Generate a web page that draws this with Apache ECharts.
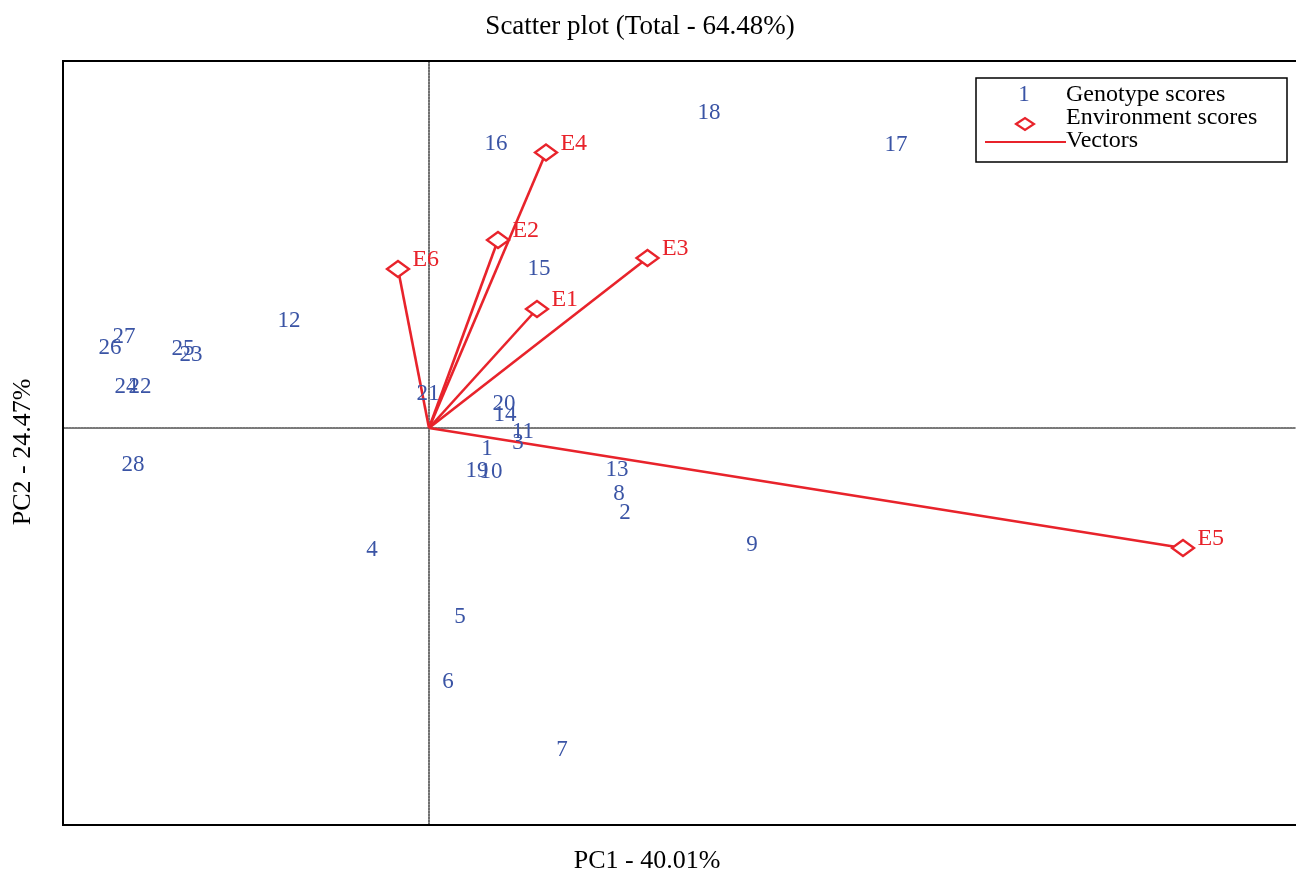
<!DOCTYPE html>
<html>
<head>
<meta charset="utf-8">
<title>Scatter plot</title>
<script src="https://cdn.jsdelivr.net/npm/echarts@6/dist/echarts.min.js"></script>
<style>
  html, body { margin: 0; padding: 0; background: #fff; }
  #chart { width: 1296px; height: 871px; }
</style>
</head>
<body>
<div id="chart"></div>
<script>
// Genotype scores (PC1, PC2)
const genotypeNames = ['1','2','3','4','5','6','7','8','9','10','11','12','13','14',
  '15','16','17','18','19','20','21','22','23','24','25','26','27','28'];
const genotypePC1 = [0.58, 1.96, 0.89, -0.57, 0.31, 0.19, 1.33, 1.90, 3.23, 0.62, 0.94, -1.40, 1.88, 0.76,
  1.10, 0.67, 4.67, 2.80, 0.48, 0.75, -0.01, -2.89, -2.38, -3.03, -2.46, -3.19, -3.05, -2.96];
const genotypePC2 = [-0.19, -0.83, -0.13, -1.20, -1.87, -2.52, -3.20, -0.64, -1.15, -0.42, -0.02, 1.09, -0.40, 0.15,
  1.61, 2.86, 2.85, 3.17, -0.41, 0.26, 0.36, 0.43, 0.75, 0.43, 0.81, 0.82, 0.93, -0.35];

// Environment scores (PC1, PC2)
const envNames = ['E1','E2','E3','E4','E5','E6'];
const envPC1 = [1.08, 0.69, 2.185, 1.17, 7.54, -0.31];
const envPC2 = [1.19, 1.88, 1.70, 2.755, -1.20, 1.59];

const BLUE = '#3a54a5';
const RED = '#e8232b';
const SERIF = '"Liberation Serif", "Times New Roman", serif';

const genotypeData = genotypeNames.map((n, i) => ({ name: n, value: [genotypePC1[i], genotypePC2[i]] }));
const envData = envNames.map((n, i) => ({ name: n, value: [envPC1[i], envPC2[i]] }));
const vectorData = envNames.map((n, i) => ({ coords: [[0, 0], [envPC1[i], envPC2[i]]] }));

const chart = echarts.init(document.getElementById('chart'), null, { renderer: 'canvas' });

const hiddenAxisBits = {
  axisTick: { show: false },
  axisLabel: { show: false },
  splitLine: { show: false }
};
const crossLine = { show: true, onZero: true, lineStyle: { color: '#4d4d4d', width: 1.6, type: [2, 1] } };

// plot frame: open on the right, where the plot runs to the page edge
const GL = 63, GT = 61, GB = 825;

chart.setOption({
  backgroundColor: '#fff',
  animation: false,
  grid: { left: GL, top: GT, right: 0, height: GB - GT, show: false },
  xAxis: Object.assign({ type: 'value', min: -3.66, max: 8.67, axisLine: crossLine }, hiddenAxisBits),
  yAxis: Object.assign({ type: 'value', min: -3.97, max: 3.67, axisLine: crossLine }, hiddenAxisBits),
  graphic: [
    { type: 'polyline', shape: { points: [[1296, GT], [GL, GT], [GL, GB], [1296, GB]] },
      style: { fill: null, stroke: '#000', lineWidth: 2 }, z: 15 },
    { type: 'text', x: 640, y: 27, style: { text: 'Scatter plot (Total - 64.48%)', font: '27px ' + SERIF, fill: '#000', align: 'center', verticalAlign: 'middle' } },
    { type: 'text', x: 647, y: 861, style: { text: 'PC1 - 40.01%', font: '26px ' + SERIF, fill: '#000', align: 'center', verticalAlign: 'middle' } },
    { type: 'text', x: 23, y: 452, rotation: Math.PI / 2, style: { text: 'PC2 - 24.47%', font: '26px ' + SERIF, fill: '#000', align: 'center', verticalAlign: 'middle' } },
    // legend box
    { type: 'rect', shape: { x: 976, y: 78, width: 311, height: 84 }, style: { fill: '#fff', stroke: '#000', lineWidth: 1.5 }, z: 20 },
    { type: 'text', x: 1024, y: 95, style: { text: '1', font: '23px ' + SERIF, fill: BLUE, align: 'center', verticalAlign: 'middle' }, z: 21 },
    { type: 'polygon', shape: { points: [[1016, 124], [1025, 118], [1034, 124], [1025, 130]] }, style: { fill: '#fff', stroke: RED, lineWidth: 2.2 }, z: 21 },
    { type: 'line', shape: { x1: 985, y1: 142, x2: 1066, y2: 142 }, style: { stroke: RED, lineWidth: 2.2 }, z: 21 },
    { type: 'text', x: 1066, y: 95, style: { text: 'Genotype scores', font: '24px ' + SERIF, fill: '#000', verticalAlign: 'middle' }, z: 21 },
    { type: 'text', x: 1066, y: 118, style: { text: 'Environment scores', font: '24px ' + SERIF, fill: '#000', verticalAlign: 'middle' }, z: 21 },
    { type: 'text', x: 1066, y: 141, style: { text: 'Vectors', font: '24px ' + SERIF, fill: '#000', verticalAlign: 'middle' }, z: 21 }
  ],
  series: [
    {
      name: 'Vectors',
      type: 'lines',
      coordinateSystem: 'cartesian2d',
      polyline: false,
      lineStyle: { color: RED, width: 2.6, opacity: 1 },
      data: vectorData,
      z: 3
    },
    {
      name: 'Environment scores',
      type: 'scatter',
      symbol: 'diamond',
      symbolSize: [22, 16],
      itemStyle: { color: '#fff', borderColor: RED, borderWidth: 2.4, opacity: 1 },
      label: {
        show: true, position: 'right', distance: 2, offset: [0, -9],
        formatter: '{b}', color: RED, fontFamily: SERIF, fontSize: 24, textBorderWidth: 0
      },
      data: envData,
      z: 4
    },
    {
      name: 'Genotype scores',
      type: 'scatter',
      symbolSize: 2,
      itemStyle: { color: 'rgba(255,255,255,0)' },
      label: {
        show: true, position: [1, 3], align: 'center', verticalAlign: 'middle', formatter: '{b}',
        color: BLUE, fontFamily: SERIF, fontSize: 23, textBorderWidth: 0, opacity: 1
      },
      labelLayout: { hideOverlap: false },
      data: genotypeData,
      z: 5
    }
  ]
});
</script>
</body>
</html>
